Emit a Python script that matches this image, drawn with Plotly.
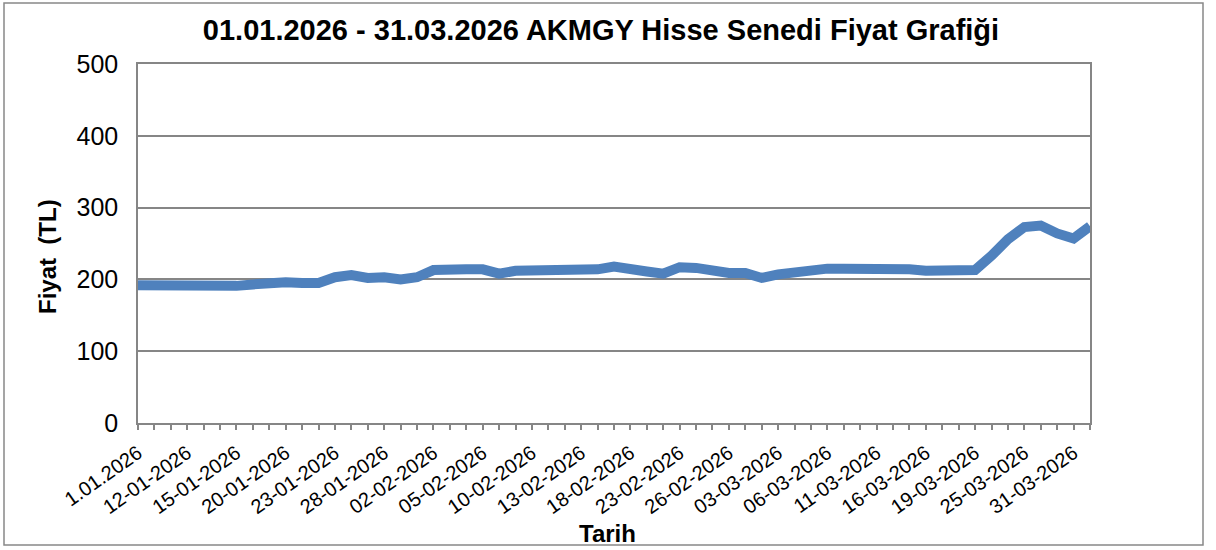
import plotly.graph_objects as go

dates = [
    "1.01.2026", "05-01-2026", "08-01-2026", "12-01-2026", "13-01-2026", "14-01-2026",
    "15-01-2026", "16-01-2026", "19-01-2026", "20-01-2026", "21-01-2026", "22-01-2026",
    "23-01-2026", "26-01-2026", "27-01-2026", "28-01-2026", "29-01-2026", "30-01-2026",
    "02-02-2026", "03-02-2026", "04-02-2026", "05-02-2026", "06-02-2026", "09-02-2026",
    "10-02-2026", "11-02-2026", "12-02-2026", "13-02-2026", "16-02-2026", "17-02-2026",
    "18-02-2026", "19-02-2026", "20-02-2026", "23-02-2026", "24-02-2026", "25-02-2026",
    "26-02-2026", "27-02-2026", "02-03-2026", "03-03-2026", "04-03-2026", "05-03-2026",
    "06-03-2026", "09-03-2026", "10-03-2026", "11-03-2026", "12-03-2026", "13-03-2026",
    "16-03-2026", "17-03-2026", "18-03-2026", "19-03-2026", "23-03-2026", "24-03-2026",
    "25-03-2026", "26-03-2026", "27-03-2026", "31-03-2026", "31.03.2026",
]

prices = [
    192, 192, 192, 192, 192, 189, 191, 193, 196, 196, 195, 195,
    203, 206, 202, 203, 200, 203, 213, 215, 214, 214, 208, 212,
    212, 212, 213, 214, 214, 218, 216, 211, 208, 217, 216, 211,
    209, 209, 202, 207, 210, 210, 215, 215, 215, 217, 216, 214,
    212, 213, 211, 213, 233, 256, 273, 275, 264, 257, 274,
]

label_step = 3
tick_text = [d if i % label_step == 0 else "" for i, d in enumerate(dates)]

title_text = "01.01.2026 - 31.03.2026 AKMGY Hisse Senedi Fiyat Grafiği"
x_title = "Tarih"
y_title = "Fiyat  (TL)"

FONT = "Arial, Liberation Sans, sans-serif"
GRID = "#868686"

W, H = 1216, 550
L, R, T, B = 138, 126, 64, 127
pw, ph = W - L - R, H - T - B

def px(xp):
    return (xp - L) / pw

def py(yp):
    return (H - B - yp) / ph

fig = go.Figure()
fig.add_trace(go.Scatter(
    x=dates, y=prices, mode="lines",
    line=dict(color="#4F81BD", width=10),
    hoverinfo="x+y", showlegend=False,
))

fig.update_layout(
    width=W, height=H,
    margin=dict(l=L, r=R, t=T, b=B),
    paper_bgcolor="white", plot_bgcolor="white",
    font=dict(family=FONT, color="black"),
    title=dict(text="<b>" + title_text + "</b>", x=601 / W, xanchor="center",
               y=1 - 30 / H, yanchor="middle", yref="container",
               font=dict(size=29, family=FONT, color="black")),
    xaxis=dict(
        type="category", range=[0, len(dates) - 1],
        tickvals=dates, ticktext=tick_text, tickangle=-35,
        tickfont=dict(size=20, family=FONT, color="black"),
        ticks="outside", ticklen=5, tickcolor=GRID, tickwidth=1.5,
        showline=True, linecolor=GRID, linewidth=1.5, mirror=True,
        showgrid=False, zeroline=False, ticklabelstandoff=4,
    ),
    yaxis=dict(
        range=[0, 500], dtick=100, tick0=0,
        tickfont=dict(size=25, family=FONT, color="black"),
        showgrid=True, gridcolor=GRID, gridwidth=1.5,
        showline=True, linecolor=GRID, linewidth=1.5, mirror=True,
        zeroline=False, ticks="", ticklabelstandoff=13,
    ),
    annotations=[
        dict(text="<b>" + x_title + "</b>", xref="paper", yref="paper",
             x=px(607), y=py(533), xanchor="center", yanchor="middle",
             showarrow=False, font=dict(size=24, family=FONT, color="black")),
        dict(text="<b>" + y_title + "</b>", xref="paper", yref="paper",
             x=px(47), y=py(257), xanchor="center", yanchor="middle",
             textangle=-90, showarrow=False,
             font=dict(size=24, family=FONT, color="black")),
    ],
    shapes=[
        dict(type="rect", xref="paper", yref="paper",
             x0=px(4), x1=px(1203), y0=py(545), y1=py(3),
             line=dict(color="#888888", width=1.5), fillcolor="rgba(0,0,0,0)",
             layer="below"),
    ],
)

fig.write_html("out.html", config={"displayModeBar": False},
               post_script="document.body.style.margin='0';")
